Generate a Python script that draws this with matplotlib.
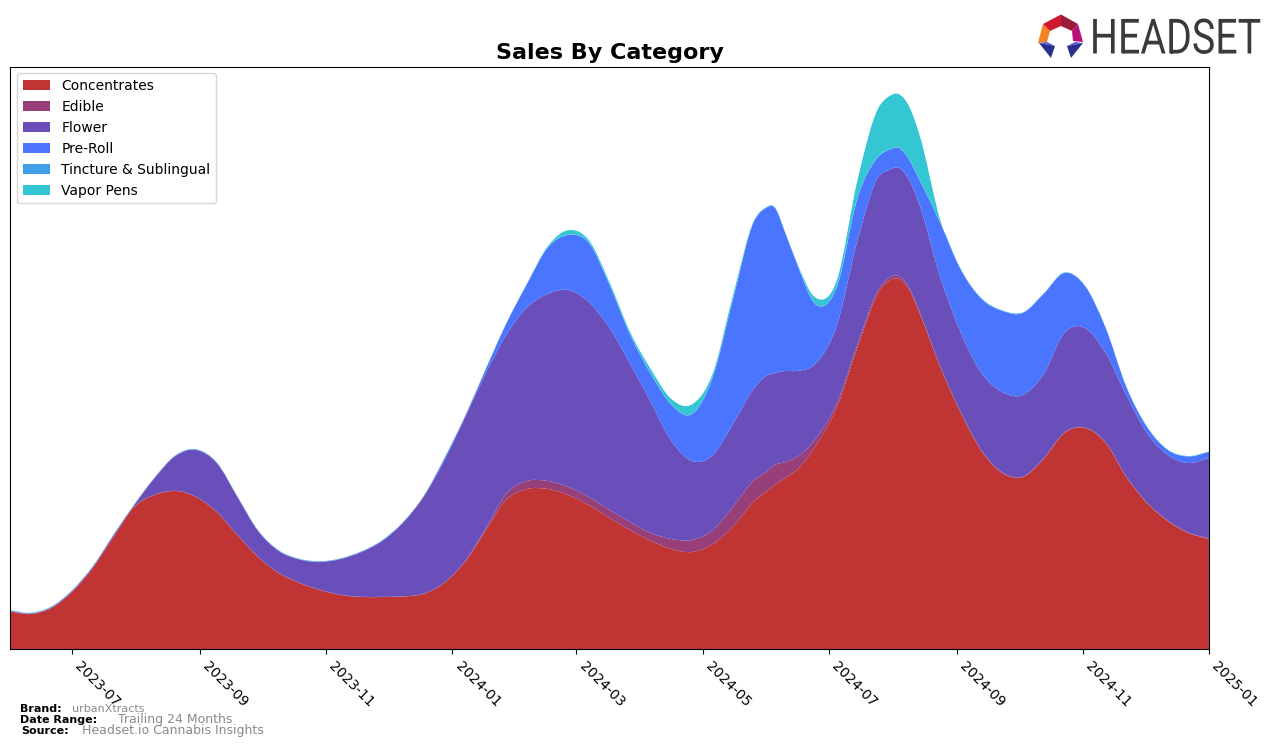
import matplotlib
matplotlib.use("Agg")
import matplotlib.dates as mdates
import matplotlib.patheffects as pe
import matplotlib.pyplot as plt
import numpy as np
import pandas as pd
from matplotlib.patches import PathPatch, Polygon
from matplotlib.path import Path
from matplotlib.transforms import Affine2D

# Valores: uma amostra a cada 10 dias, mais quatro perto dos picos
dates = pd.date_range("2023-06-01", periods=59, freq="10D")
dates = dates.union(pd.to_datetime(["2024-05-31", "2024-06-10", "2024-07-30", "2024-08-09"]))
dates = dates.sort_values()

concentrates = [37.5, 35, 41, 57, 81, 112, 142, 154, 158, 152, 137, 114, 92, 76, 66,
                59, 54, 52, 52, 52.5, 55, 66, 87, 118, 149, 160, 160, 154, 144, 131,
                119, 108, 100, 97, 105, 123, 148, 156, 164, 171, 178, 204, 242, 302, 356, 368,
                370, 359, 336, 282, 236, 198, 176, 172, 190, 216, 221, 206, 172, 146, 128, 116, 110]
edible = [0.2] * 22 + [0.5, 2, 6, 8, 8, 8, 8, 8, 8, 8, 10, 12, 14, 20, 21, 20, 20, 16, 13, 7,
                       4, 3, 3, 3, 3, 2, 1] + [0.5] * 14
flower = [0.3, 0.3, 0.5, 0.8, 0.8, 1.3, 1.5, 16.8, 34.8, 46.8, 48.8, 37.8, 25.8, 21.8,
          23.3, 27.8, 35.8, 44.8, 55.8, 73.3, 96.8, 121.8, 143.5, 155, 159, 173.5, 187,
          197, 195, 182, 158, 131, 98, 79, 75, 83, 92, 96, 92, 91, 87, 75, 78, 104, 113, 108, 108,
          108, 107, 89.5, 79.5, 77.5, 80.5, 81.5, 84.5, 99.5, 99.5, 89.5, 81.5, 69.5, 65.5,
          69.5, 80.5]
pre_roll = [0.3] * 21 + [2, 1, 4, 11, 23, 46, 55, 59, 43, 29, 28, 36, 47, 78, 126, 167, 168,
                         165, 138, 111, 58, 38, 42, 20, 20, 20, 20, 25, 54, 63, 74, 81, 82, 80, 60,
                         42, 25, 8, 6, 5, 6.5, 6]
tincture = [0.3] * 51 + [0.5, 0.5, 0.5] + [0.3] * 9
vapor_pens = [0.2] * 22 + [0.3, 0.3, 0.3, 0.5, 1, 4.5, 2.5, 2.5, 2.5, 4.5, 5.5, 9.5, 3.5,
                           3.5, 0.5, 0.5, 0.5, 0.5, 0.5, 6.5, 6.5, 18, 48.5, 53, 53.5, 53, 44.5,
                           2.7, 0.5] + [0.2] * 12

categories = ["Concentrates", "Edible", "Flower", "Pre-Roll", "Tincture & Sublingual", "Vapor Pens"]
colors = ["#C13434", "#963F78", "#6A4FBB", "#4975FF", "#3F9EE8", "#35C6D4"]
series = [concentrates, edible, flower, pre_roll, tincture, vapor_pens]


def bezier_edge(x, y):
    """Curva suave que passa pelos valores lidos (controles de Bezier, sem novos pontos)."""
    m = np.gradient(y, x)
    dx = np.diff(x)
    verts = []
    for i in range(len(x) - 1):
        verts.append((x[i] + dx[i] / 3, y[i] + m[i] * dx[i] / 3))
        verts.append((x[i + 1] - dx[i] / 3, y[i + 1] - m[i + 1] * dx[i] / 3))
        verts.append((x[i + 1], y[i + 1]))
    return verts


def stacked_band(x, low, high):
    top = bezier_edge(x, high)
    bottom = bezier_edge(x[::-1], low[::-1])
    verts = [(x[0], high[0])] + top + [(x[-1], low[-1])] + bottom + [(x[0], high[0])]
    codes = ([Path.MOVETO] + [Path.CURVE4] * len(top) + [Path.LINETO]
             + [Path.CURVE4] * len(bottom) + [Path.CLOSEPOLY])
    return Path(verts, codes)


class SqueezeX(pe.AbstractPathEffect):
    # estreita o texto do logo em torno da borda direita
    def __init__(self, x0, factor):
        super().__init__()
        self.x0, self.factor = x0, factor

    def draw_path(self, renderer, gc, tpath, affine, rgbFace=None):
        squeeze = Affine2D().translate(-self.x0, 0).scale(self.factor, 1).translate(self.x0, 0)
        renderer.draw_path(gc, tpath, affine + squeeze, rgbFace)


W, H = 1276, 746
fig = plt.figure(figsize=(W / 100, H / 100), dpi=100)
ax = fig.add_axes([10 / W, 1 - 649 / H, 1199 / W, 582.5 / H])

x = mdates.date2num(dates)
low = np.zeros(len(x))
for values, name, color in zip(series, categories, colors):
    high = low + np.array(values, dtype=float)
    ax.add_patch(PathPatch(stacked_band(x, low, high), facecolor=color, edgecolor="none",
                           linewidth=0, label=name))
    low = high

ax.set_xlim(dates[0], pd.Timestamp("2025-01-01"))
ax.set_ylim(0, 582.5)
ax.set_yticks([])
ax.xaxis.set_major_locator(mdates.MonthLocator(bymonth=range(1, 13, 2)))
ax.xaxis.set_major_formatter(mdates.DateFormatter("%Y-%m"))
plt.setp(ax.get_xticklabels(), rotation=-45, ha="left")
ax.legend(loc="upper left")
ax.set_title("Sales By Category", fontsize=16, fontweight="bold", pad=5.5)

# Rodapé
GRAY = "#8a8a8a"
fig.text(20 / W, 1 - 708.5 / H, "Brand:", fontsize=8, fontweight="bold", va="center")
fig.text(72 / W, 1 - 708.5 / H, "urbanXtracts", fontsize=8, color=GRAY, va="center")
fig.text(20 / W, 1 - 720 / H, "Date Range:", fontsize=8, fontweight="bold", va="center")
fig.text(118 / W, 1 - 719.5 / H, "Trailing 24 Months", fontsize=9, color=GRAY, va="center")
fig.text(21 / W, 1 - 730.5 / H, "Source:", fontsize=8, fontweight="bold", va="center")
fig.text(82 / W, 1 - 730.5 / H, "Headset.io Cannabis Insights", fontsize=9, color=GRAY, va="center")

# Logo em coordenadas de pixel
logo = fig.add_axes([0, 0, 1, 1], facecolor="none")
logo.set_xlim(0, W)
logo.set_ylim(H, 0)
logo.axis("off")
shapes = [
    ([(1043, 24), (1050, 31), (1047, 42), (1038, 43)], "#F58220"),
    ([(1043, 24), (1061, 14.5), (1061, 26), (1050, 31)], "#D0192F"),
    ([(1061, 14.5), (1078, 24), (1072, 31), (1061, 26)], "#9B1B3B"),
    ([(1078, 24), (1083, 42), (1073, 41), (1072, 31)], "#B8107A"),
    ([(1039, 43), (1047, 42), (1055, 46)], "#5B5BD6"),
    ([(1039, 43), (1055, 46), (1051, 58)], "#2B2F8C"),
    ([(1083, 43), (1075, 42), (1067, 46)], "#5B5BD6"),
    ([(1083, 43), (1067, 46), (1071, 58)], "#2B2F8C"),
]
for pts, color in shapes:
    logo.add_patch(Polygon(pts, closed=True, facecolor=color, edgecolor="none"))
logo.text(1261, 40.5, "HEADSET", fontsize=35, color="#3a3a3a", va="center", ha="right",
          family="Roboto", path_effects=[SqueezeX(1261, 0.81)])

fig.savefig("out.png", dpi=100)
